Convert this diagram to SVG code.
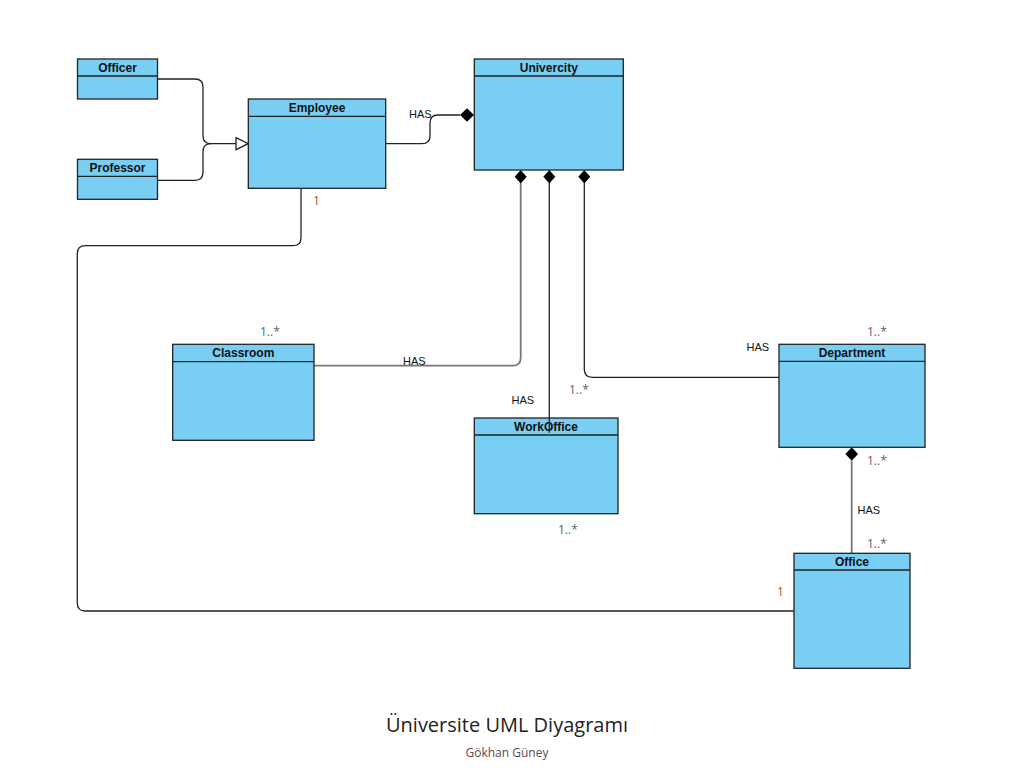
<svg xmlns="http://www.w3.org/2000/svg" width="1029" height="781" viewBox="0 0 1029 781">
<defs>
<style>
.box{fill:#79CEF4;stroke:#222;stroke-width:1.3}
.div{stroke:#222;stroke-width:1.3}
.title{font-family:"Liberation Sans",Arial,sans-serif;font-size:12px;font-weight:bold;fill:#111;text-anchor:middle}
.conn{fill:none;stroke:#222;stroke-width:1.3}
.connG{fill:none;stroke:#777;stroke-width:1.8}
.lbl{font-family:"Liberation Sans",Arial,sans-serif;font-size:11px;fill:#111}
.mult{font-family:"Open Sans","Liberation Sans",sans-serif;font-size:12px;fill:#5b6272}
.one{font-family:"Open Sans","Liberation Sans",sans-serif;font-size:12px;fill:#9a5a2e}
.dia{fill:#000}
</style>
</defs>
<rect width="1029" height="781" fill="#fff"/>
<g id="connectors">
<path class="conn" d="M157.5 79 H195 Q203 79 203 87 V135.7 Q203 143.7 211 143.7 H236"/>
<path class="conn" d="M157.5 180.3 H195 Q203 180.3 203 172.3 V151.7 Q203 143.7 211 143.7"/>
<polygon points="236,137.7 248.3,143.7 236,149.7" fill="#fff" stroke="#222" stroke-width="1.3"/>
<path class="conn" d="M385.7 143.7 H422 Q430 143.7 430 135.7 V123 Q430 115 438 115 H460"/>
<polygon class="dia" points="460,115 467,108.3 474,115 467,121.7"/>
<text class="lbl" x="409" y="118">HAS</text>
<path class="connG" d="M520.7 183 V357.7 Q520.7 365.7 512.7 365.7 H314"/>
<polygon class="dia" points="520.7,170 526.7,176.7 520.7,183.4 514.7,176.7"/>
<path class="conn" d="M549.3 183 V432.7"/>
<polygon class="dia" points="549.3,170 555.3,176.7 549.3,183.4 543.3,176.7"/>
<path class="conn" d="M584.3 183 V369.3 Q584.3 377.3 592.3 377.3 H779"/>
<polygon class="dia" points="584.3,170 590.3,176.7 584.3,183.4 578.3,176.7"/>
<path class="connG" d="M851.7 460.7 V553.3"/>
<polygon class="dia" points="851.7,447.3 858,454 851.7,460.7 845.4,454"/>
<path class="conn" d="M301 188.3 V237.7 Q301 245.7 293 245.7 H85.3 Q77.3 245.7 77.3 253.7 V603 Q77.3 611 85.3 611 H794"/>
<text class="one" x="313" y="205">1</text>
<text class="mult" x="260" y="336">1..*</text>
<text class="lbl" x="403" y="365">HAS</text>
<text class="lbl" x="511.5" y="404">HAS</text>
<text class="mult" x="569" y="394">1..*</text>
<text class="mult" x="558" y="534">1..*</text>
<text class="lbl" x="746.5" y="351">HAS</text>
<text class="mult" x="867" y="336">1..*</text>
<text class="mult" x="867" y="465">1..*</text>
<text class="lbl" x="857.5" y="514">HAS</text>
<text class="mult" x="867" y="548">1..*</text>
<text class="one" x="777" y="596">1</text>
</g>
<g id="officer">
<rect class="box" x="77.5" y="59" width="80" height="40"/>
<line class="div" x1="77.5" y1="76" x2="157.5" y2="76"/>
<text class="title" x="117.5" y="71.5">Officer</text>
</g>
<g id="professor">
<rect class="box" x="77.5" y="159.3" width="80" height="40"/>
<line class="div" x1="77.5" y1="176.3" x2="157.5" y2="176.3"/>
<text class="title" x="117.5" y="171.5">Professor</text>
</g>
<g id="employee">
<rect class="box" x="248.3" y="99" width="137.4" height="89.3"/>
<line class="div" x1="248.3" y1="116.3" x2="385.7" y2="116.3"/>
<text class="title" x="317" y="111.5">Employee</text>
</g>
<g id="univercity">
<rect class="box" x="474.3" y="59" width="149" height="111"/>
<line class="div" x1="474.3" y1="76" x2="623.3" y2="76"/>
<text class="title" x="548.8" y="71.5">Univercity</text>
</g>
<g id="classroom">
<rect class="box" x="172.7" y="344.3" width="141.3" height="96"/>
<line class="div" x1="172.7" y1="361.7" x2="314" y2="361.7"/>
<text class="title" x="243.3" y="356.5">Classroom</text>
</g>
<g id="workoffice">
<rect class="box" x="474.3" y="418" width="143.7" height="95.7"/>
<line class="div" x1="474.3" y1="435" x2="618" y2="435"/>
<text class="title" x="546" y="430.5">WorkOffice</text>
<line class="conn" x1="549.3" y1="418" x2="549.3" y2="432.7"/>
</g>
<g id="department">
<rect class="box" x="779" y="344.3" width="146" height="103"/>
<line class="div" x1="779" y1="361.3" x2="925" y2="361.3"/>
<text class="title" x="852" y="356.5">Department</text>
</g>
<g id="office">
<rect class="box" x="794" y="553.3" width="116" height="115"/>
<line class="div" x1="794" y1="570" x2="910" y2="570"/>
<text class="title" x="852" y="565.5">Office</text>
</g>
<g id="caption">
<text x="507" y="732" font-family="'Open Sans','Liberation Sans',sans-serif" font-size="20" fill="#222" text-anchor="middle">Üniversite UML Diyagramı</text>
<text x="507" y="757" font-family="'Open Sans','Liberation Sans',sans-serif" font-size="12" fill="#5a4a5a" text-anchor="middle">Gökhan Güney</text>
</g>
</svg>
